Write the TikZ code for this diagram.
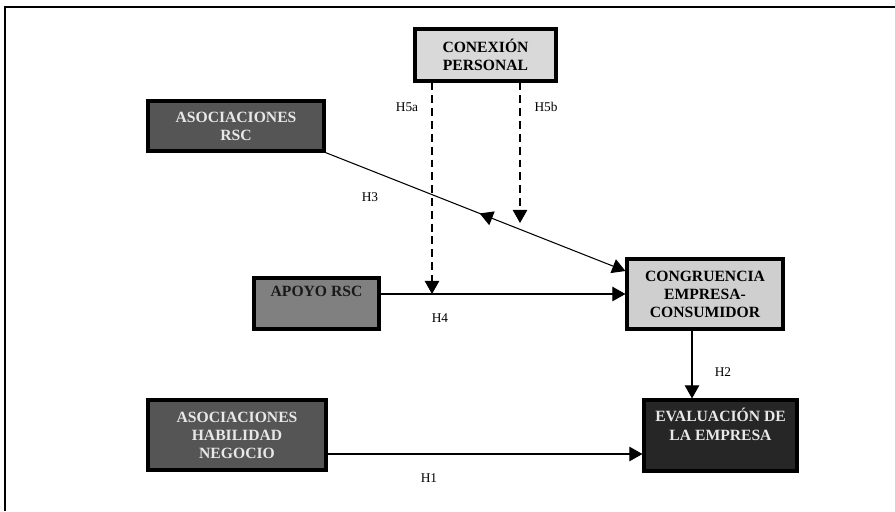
\documentclass[tikz,border=0pt]{standalone}
\usepackage{fontspec}
\setmainfont{Liberation Serif}
\usetikzlibrary{arrows.meta,positioning,decorations.markings}

\definecolor{lightbox}{HTML}{D9D9D9}
\definecolor{congbox}{HTML}{CFCFCF}
\definecolor{darkbox}{HTML}{555555}
\definecolor{midbox}{HTML}{808080}
\definecolor{blackbox}{HTML}{262626}
\definecolor{paletext}{HTML}{E8E8E8}

\tikzset{
	box/.style={draw=black, line width=1.8pt, align=center, inner sep=0pt,
		font=\fontsize{8.9}{10.2}\selectfont\bfseries},
	boxtxt/.style={align=center, inner sep=0pt,
		font=\fontsize{8.9}{10.6}\selectfont\bfseries},
	lbl/.style={font=\fontsize{7.6}{9}\selectfont},
	link/.style={line width=0.6pt, -{Triangle[length=7.5pt,width=8.3pt]}},
	moder/.style={link, dash pattern=on 4.5pt off 2.8pt},
}

\begin{document}
\begin{tikzpicture}[x=0.02cm,y=-0.02cm]
	\useasboundingbox (0,0) rectangle (895,511);
	
	% marco
	\draw[line width=1.5pt] (5,511) -- (5,7) -- (895,7);
	
	% bloques
	\node[box, fill=lightbox, minimum width=2.82cm, minimum height=1.04cm] (conexion) at (485.5,55) {CONEXIÓN\\PERSONAL};
	\node[box, fill=darkbox, text=paletext, minimum width=3.52cm, minimum height=1.0cm] (asocrsc) at (236,126) {ASOCIACIONES\\RSC};
	\node[box, fill=midbox, minimum width=2.5cm, minimum height=1.02cm] (apoyo) at (316.5,303.5) {};
	\node[boxtxt, text=black!90, below=5.4pt of apoyo.north] (apoyotxt) {APOYO RSC};
	\node[box, fill=congbox, minimum width=3.12cm, minimum height=1.4cm] (congru) at (705,294) {CONGRUENCIA\\EMPRESA-\\CONSUMIDOR};
	\node[box, fill=darkbox, text=paletext, minimum width=3.56cm, minimum height=1.4cm] (habil) at (237,435) {ASOCIACIONES\\HABILIDAD\\NEGOCIO};
	\node[box, fill=blackbox, minimum width=3.06cm, minimum height=1.42cm] (evalua) at (720.5,435.5) {};
	\node[boxtxt, text=paletext, below=5.4pt of evalua.north] (evaluatxt) {EVALUACIÓN DE\\LA EMPRESA};
	
	% puntos de llegada de las moderaciones
	\coordinate (h5aend) at (432,294);
	\coordinate (h5bend) at (520,223);
	
	% relaciones
	\draw[link, postaction={decorate}, decoration={markings,
		mark=at position 0.555 with {\arrow{Triangle[reversed,length=7.5pt,width=8.3pt]}}}]
		(asocrsc.south east) -- (congru.west |- 0,271);
	\draw[link] (apoyo.east |- congru.west) -- (congru.west);
	\draw[link] (congru.south -| 692,0) -- (evalua.north -| 692,0);
	\draw[link] (habil.east |- 0,454) -- (evalua.west |- 0,454);
	\draw[moder] (conexion.south -| h5aend) -- (h5aend);
	\draw[moder] (conexion.south -| h5bend) -- (h5bend);
	
	% hipotesis
	\node[lbl] (h5a) at (407,107) {H5a};
	\node[lbl] (h5b) at (546,107) {H5b};
	\node[lbl] (h3) at (370,197) {H3};
	\node[lbl] (h4) at (440,318) {H4};
	\node[lbl] (h2) at (723,372) {H2};
	\node[lbl] (h1) at (429,478) {H1};
	
\end{tikzpicture}
\end{document}
